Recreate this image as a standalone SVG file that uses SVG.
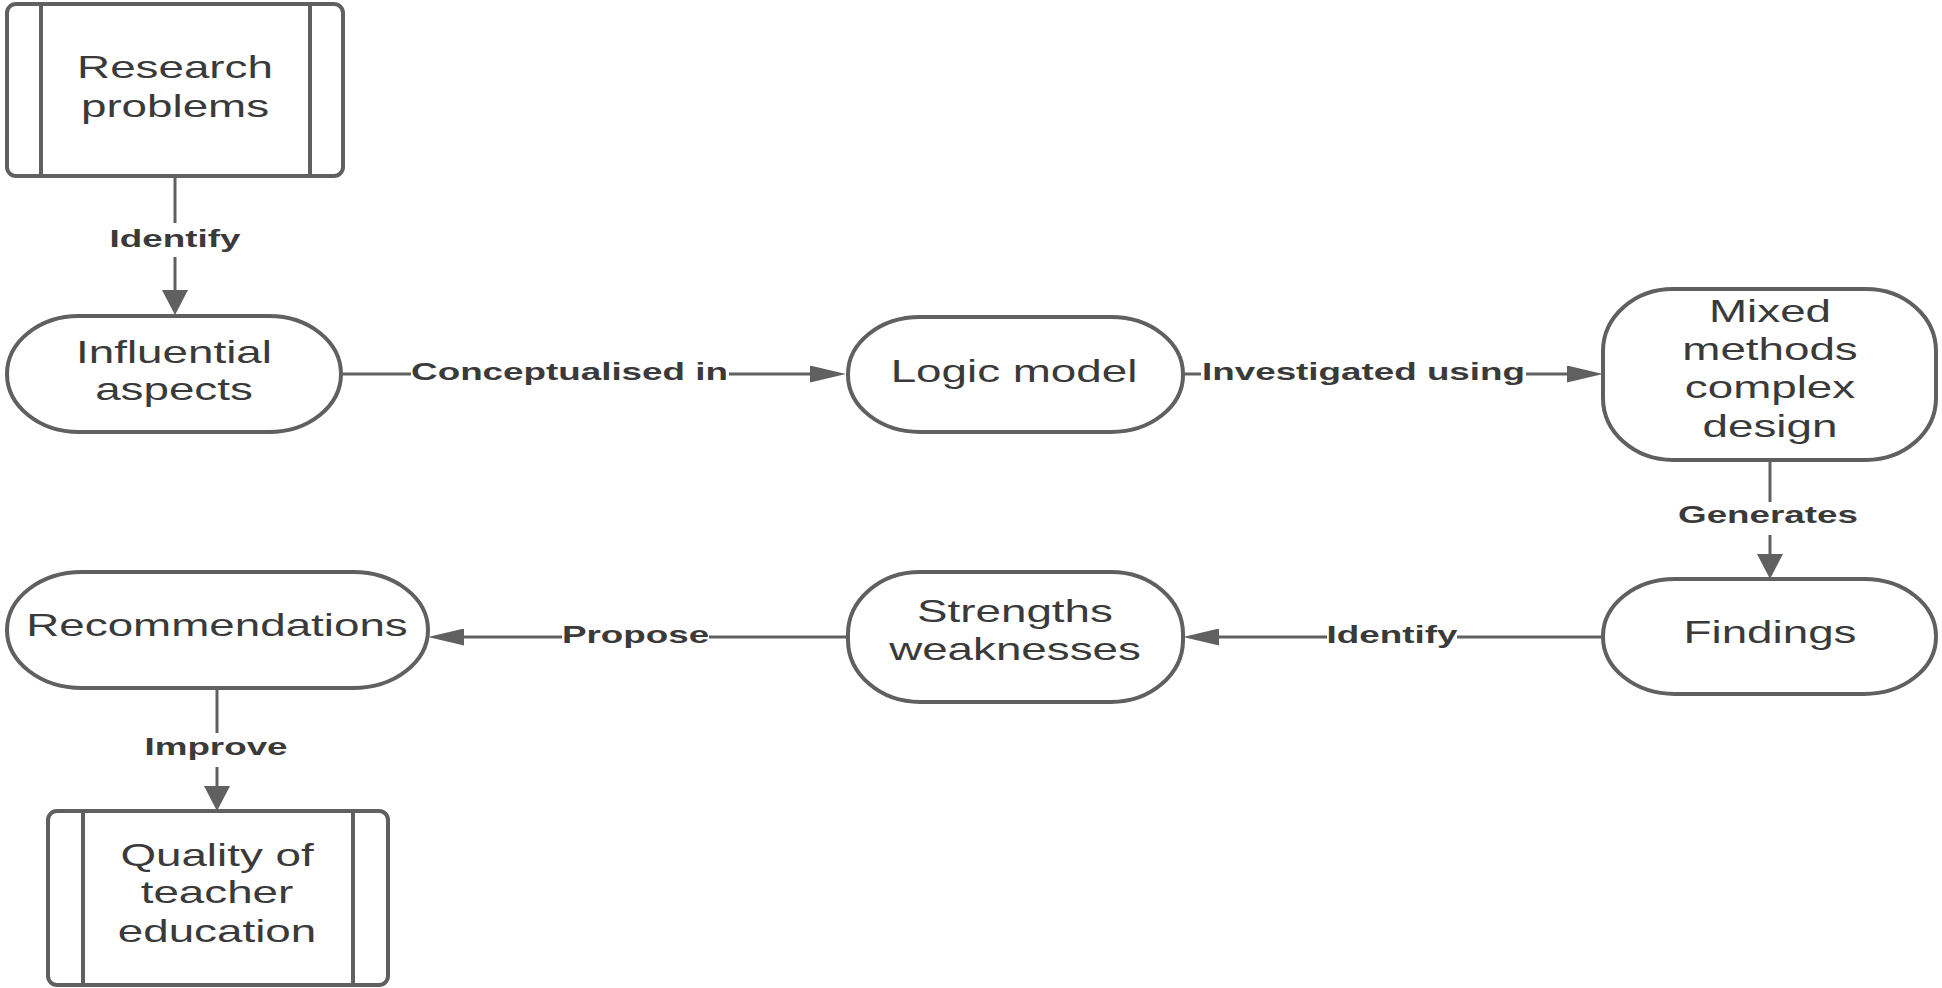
<svg xmlns="http://www.w3.org/2000/svg" width="1942" height="988" viewBox="0 0 1942 988">
<style>
.box{fill:#fff;stroke:#606060;stroke-width:4}
.bar{stroke:#606060;stroke-width:4}
.n{font-family:"Liberation Sans",Arial,sans-serif;font-size:32px;fill:#3a3a3a;text-anchor:middle}
.l{font-family:"Liberation Sans",Arial,sans-serif;font-size:23px;font-weight:bold;fill:#3a3a3a;text-anchor:middle}
.c{fill:none;stroke:#606060;stroke-width:3}
.h{marker-end:url(#ah)}
.v{marker-end:url(#av)}
</style>
<defs>
<marker id="ah" markerUnits="userSpaceOnUse" markerWidth="36" markerHeight="17" refX="26" refY="8.5" orient="auto" viewBox="0 0 36 17">
<path d="M0,0 L36,8.5 L0,17 z" fill="#606060"/>
</marker>
<marker id="av" markerUnits="userSpaceOnUse" markerWidth="25" markerHeight="26" refX="15" refY="13" orient="auto" viewBox="0 0 25 26">
<path d="M0,0 L25,13 L0,26 z" fill="#606060"/>
</marker>
</defs>
<rect width="1942" height="988" fill="#fff"/>

<g id="connectors">
<line class="c" x1="175" y1="177" x2="175" y2="223"/>
<line class="c v" x1="175" y1="257" x2="175" y2="305"/>
<text class="l" transform="matrix(1.6 0 0 1 175 0)" y="247">Identify</text>

<line class="c" x1="341" y1="374" x2="411" y2="374"/>
<line class="c h" x1="729" y1="374" x2="836" y2="374"/>
<text class="l" transform="matrix(1.6 0 0 1 569.5 0)" y="380">Conceptualised in</text>

<line class="c" x1="1183" y1="374" x2="1201" y2="374"/>
<line class="c h" x1="1526" y1="374" x2="1593" y2="374"/>
<text class="l" transform="matrix(1.6 0 0 1 1363.5 0)" y="380">Investigated using</text>

<line class="c" x1="1770" y1="460" x2="1770" y2="502"/>
<line class="c v" x1="1770" y1="535" x2="1770" y2="569"/>
<text class="l" transform="matrix(1.6 0 0 1 1768 0)" y="523">Generates</text>

<line class="c" x1="1603" y1="637" x2="1457" y2="637"/>
<line class="c h" x1="1327" y1="637" x2="1193" y2="637"/>
<text class="l" transform="matrix(1.6 0 0 1 1392 0)" y="643">Identify</text>

<line class="c" x1="848" y1="637" x2="709" y2="637"/>
<line class="c h" x1="562" y1="637" x2="438" y2="637"/>
<text class="l" transform="matrix(1.6 0 0 1 635.5 0)" y="643">Propose</text>

<line class="c" x1="217" y1="689" x2="217" y2="733"/>
<line class="c v" x1="217" y1="767" x2="217" y2="801"/>
<text class="l" transform="matrix(1.6 0 0 1 216 0)" y="755">Improve</text>
</g>

<g id="research-problems">
<rect class="box" x="7" y="4" width="336" height="172" rx="9" ry="9"/>
<line class="bar" x1="41" y1="4" x2="41" y2="176"/>
<line class="bar" x1="310" y1="4" x2="310" y2="176"/>
<text class="n" transform="matrix(1.43 0 0 1 175 0)" y="78">Research</text>
<text class="n" transform="matrix(1.43 0 0 1 175 0)" y="117">problems</text>
</g>

<g id="influential-aspects">
<rect class="box" x="7" y="316" width="334" height="116" rx="72" ry="58"/>
<text class="n" transform="matrix(1.43 0 0 1 174 0)" y="363">Influential</text>
<text class="n" transform="matrix(1.43 0 0 1 174 0)" y="400">aspects</text>
</g>

<g id="logic-model">
<rect class="box" x="848" y="317" width="335" height="115" rx="72" ry="57"/>
<text class="n" transform="matrix(1.43 0 0 1 1014 0)" y="382">Logic model</text>
</g>

<g id="mixed-methods">
<rect class="box" x="1603" y="289" width="333" height="171" rx="70" ry="62"/>
<text class="n" transform="matrix(1.43 0 0 1 1770 0)" y="322">Mixed</text>
<text class="n" transform="matrix(1.43 0 0 1 1770 0)" y="360">methods</text>
<text class="n" transform="matrix(1.43 0 0 1 1770 0)" y="398">complex</text>
<text class="n" transform="matrix(1.43 0 0 1 1770 0)" y="437">design</text>
</g>

<g id="findings">
<rect class="box" x="1603" y="579" width="333" height="115" rx="72" ry="57"/>
<text class="n" transform="matrix(1.43 0 0 1 1770 0)" y="643">Findings</text>
</g>

<g id="strengths-weaknesses">
<rect class="box" x="848" y="572" width="335" height="130" rx="72" ry="62"/>
<text class="n" transform="matrix(1.43 0 0 1 1015 0)" y="622">Strengths</text>
<text class="n" transform="matrix(1.43 0 0 1 1015 0)" y="660">weaknesses</text>
</g>

<g id="recommendations">
<rect class="box" x="7" y="572" width="421" height="116" rx="75" ry="58"/>
<text class="n" transform="matrix(1.43 0 0 1 217 0)" y="636">Recommendations</text>
</g>

<g id="quality-teacher-education">
<rect class="box" x="48" y="811" width="340" height="174" rx="9" ry="9"/>
<line class="bar" x1="83" y1="811" x2="83" y2="985"/>
<line class="bar" x1="353" y1="811" x2="353" y2="985"/>
<text class="n" transform="matrix(1.43 0 0 1 217 0)" y="866">Quality of</text>
<text class="n" transform="matrix(1.43 0 0 1 217 0)" y="903">teacher</text>
<text class="n" transform="matrix(1.43 0 0 1 217 0)" y="942">education</text>
</g>
</svg>
